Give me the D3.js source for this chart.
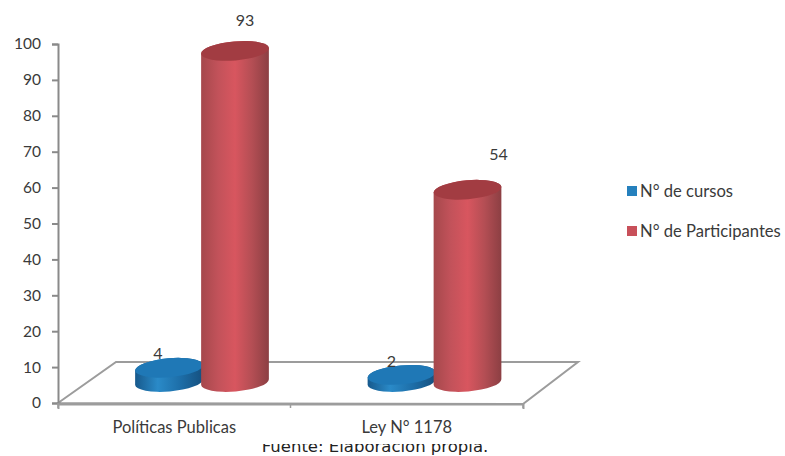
<!DOCTYPE html>
<html lang="es">
<head>
<meta charset="utf-8">
<title>Cursos y participantes</title>
<script src="https://cdn.jsdelivr.net/npm/d3@7/dist/d3.min.js"></script>
<style>
  html, body { margin: 0; padding: 0; background: #fff; overflow: hidden; }
  svg { display: block; }
  text { font-family: Lato, "Open Sans", sans-serif; fill: #3a3a3a; }
</style>
</head>
<body>
<svg id="chart" width="785" height="456"></svg>
<script>
// Chart values
const categories = ["Políticas Publicas", "Ley N° 1178"];
const seriesNames = ["N° de cursos", "N° de Participantes"];
const cursos = [4, 2];
const participantes = [93, 54];
const axisTicks = [0, 10, 20, 30, 40, 50, 60, 70, 80, 90, 100];
const footnote = "Fuente: Elaboración propia.";

const svg = d3.select("#chart");
const defs = svg.append("defs");

const palette = [
  { side: ["#17598c", "#2a8ac8", "#1d6ea8", "#15507f"], top: "#1f78b6" },
  { side: ["#a5484c", "#c2525a", "#d8565f", "#b44e54", "#8c3f43"], top: "#a23c42" }
];
palette.forEach((p, i) => {
  const g = defs.append("linearGradient").attr("id", "cyl" + i);
  p.side.forEach((c, k) => g.append("stop")
    .attr("offset", k / (p.side.length - 1)).attr("stop-color", c));
});
defs.append("clipPath").attr("id", "footClip")
  .append("rect").attr("x", 0).attr("y", 444).attr("width", 785).attr("height", 12);

// Front plane of the axes
const y = d3.scaleLinear().domain([0, 100]).range([403, 44]);
const x = d3.scaleBand().domain(categories).range([58, 523]);
// Bars stand further back on the floor, so they sit higher and scale a little smaller
const barY = d3.scaleLinear().domain([0, 100]).range([382, 26]);
const inner = d3.scaleBand().domain(seriesNames).range([78, 210]);
const rx = 34, ry = 9.5, tilt = -5;

// Floor parallelogram
const floorColor = "#9c9c9c";
svg.append("path")
  .attr("d", d3.line()([[58, 403], [116, 362], [578, 362], [523, 404]]) + "Z")
  .attr("fill", "#fff").attr("stroke", floorColor).attr("stroke-width", 2);

// Axes
const axisL = d3.axisLeft(y).tickValues(axisTicks).tickSize(6).tickPadding(11);
const gy = svg.append("g").attr("transform", "translate(58,0)").call(axisL);
gy.selectAll("path,line").attr("stroke", "#8a8a8a").attr("stroke-width", 2);
gy.selectAll("text").style("font-size", "15.5px").attr("fill", "#3a3a3a");

const axisB = d3.axisBottom(x).tickSize(5).tickPadding(12).tickSizeOuter(5);
const gx = svg.append("g").attr("transform", "translate(0,404)").call(axisB);
gx.selectAll("path").attr("stroke", floorColor).attr("stroke-width", 2);
gx.selectAll("line").remove();
// Category boundary ticks
svg.append("g").selectAll("line")
  .data([x.range()[0], x(categories[1]), x.range()[1]])
  .join("line")
  .attr("x1", d => d).attr("x2", d => d).attr("y1", 403).attr("y2", 408)
  .attr("stroke", floorColor).attr("stroke-width", 1.5);
gx.selectAll("text").style("font-size", "16.5px").attr("fill", "#3a3a3a");

// Cylinder drawing: tilted ellipses joined by straight sides
const rad = tilt * Math.PI / 180;
const dx = rx * Math.cos(rad), dy = rx * Math.sin(rad);
function bodyPath(cx, yTop, yBase) {
  return `M${cx - dx},${yTop - dy}L${cx - dx},${yBase - dy}` +
    `A${rx},${ry} ${tilt} 0 0 ${cx + dx},${yBase + dy}` +
    `L${cx + dx},${yTop + dy}` +
    `A${rx},${ry} ${tilt} 0 0 ${cx - dx},${yTop - dy}Z`;
}
function drawCylinder(cx, value, idx) {
  const top = barY(value), base = barY(0);
  svg.append("path").attr("d", bodyPath(cx, top, base)).attr("fill", `url(#cyl${idx})`);
  svg.append("ellipse")
    .attr("transform", `translate(${cx},${top}) rotate(${tilt})`)
    .attr("rx", rx).attr("ry", ry).attr("fill", palette[idx].top);
}

// Value label placement relative to each cylinder top: [series][category]
const labelOffsets = [
  [{ dx: -11, dy: -9 }, { dx: -10, dy: -8 }],
  [{ dx: 10, dy: -25 }, { dx: 31, dy: -30 }]
];
[cursos, participantes].forEach((values, s) => {
  categories.forEach((c, i) => {
    const cx = x(c) + inner(seriesNames[s]) + inner.bandwidth() / 2;
    drawCylinder(cx, values[i], s);
    svg.append("text")
      .attr("x", cx + labelOffsets[s][i].dx)
      .attr("y", barY(values[i]) + labelOffsets[s][i].dy)
      .attr("text-anchor", "middle")
      .style("font-size", "16px")
      .text(values[i]);
  });
});

// Legend
const legendY = d3.scalePoint().domain(seriesNames).range([191, 231]);
const legend = svg.append("g").selectAll("g").data(seriesNames).join("g")
  .attr("transform", d => `translate(627,${legendY(d)})`);
legend.append("rect").attr("x", 0).attr("y", -5).attr("width", 10).attr("height", 10)
  .attr("fill", (d, i) => i === 0 ? "#2580bd" : "#c8505a");
legend.append("text").attr("x", 13).attr("y", 5.5).style("font-size", "16.6px").text(d => d);

// Source note, partly hidden below the plot area
svg.append("text")
  .attr("x", 375).attr("y", 452)
  .attr("text-anchor", "middle")
  .attr("clip-path", "url(#footClip)")
  .style("font-family", "'DejaVu Sans', sans-serif")
  .style("font-size", "16.5px").style("fill", "#222")
  .text(footnote);
</script>
</body>
</html>
